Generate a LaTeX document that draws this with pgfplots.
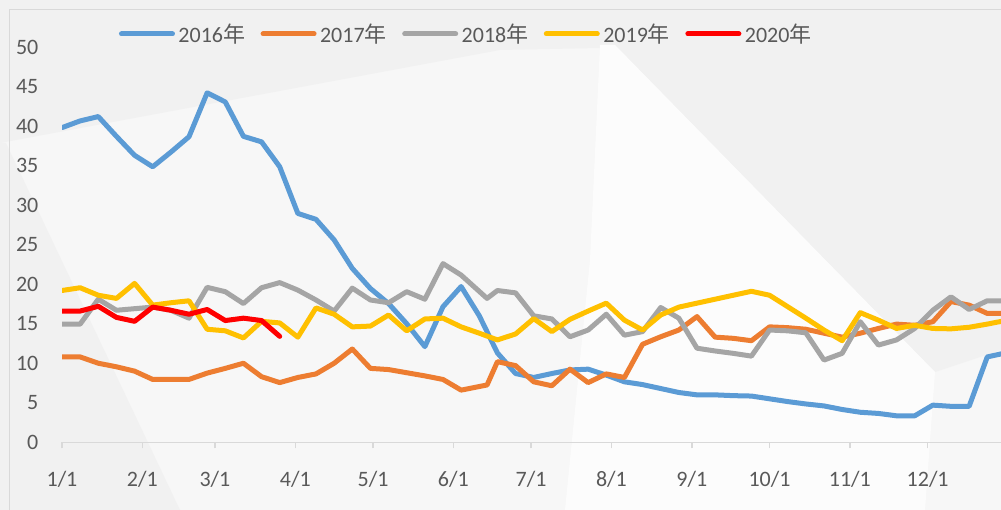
\documentclass[border=0pt]{standalone}
\usepackage{pgfplots}
\pgfplotsset{compat=1.18}
\usepackage{pgfplotstable}
\usepackage{fontspec}
\setmainfont{Carlito}
\newfontfamily\cjk{Noto Sans CJK SC}
\definecolor{c16}{HTML}{5B9BD5}
\definecolor{c17}{HTML}{ED7D31}
\definecolor{c18}{HTML}{A5A5A5}
\definecolor{c19}{HTML}{FFC000}
\definecolor{c20}{HTML}{FF0000}
\definecolor{txt}{HTML}{595959}
\definecolor{axl}{HTML}{D9D9D9}
\definecolor{bgA}{HTML}{F7F7F7}
\definecolor{bgB}{HTML}{F1F1F1}
\definecolor{bgC}{HTML}{FCFCFC}

\pgfplotstableread{
d v
0 39.8
7 40.65
14 41.2
21 38.7
28 36.3
35 34.85
42 36.7
49 38.65
56 44.2
63 43.05
70 38.7
77 38.0
84 34.85
91 28.95
98 28.2
105 25.6
112 22.0
119 19.45
126 17.55
133 15.0
140 12.1
147 17.15
154 19.7
161 16.0
168 11.3
175 8.7
182 8.2
189 8.7
196 9.15
203 9.25
210 8.5
217 7.65
224 7.3
231 6.8
238 6.3
245 6.0
252 6.0
259 5.9
266 5.85
273 5.5
280 5.15
287 4.85
294 4.6
301 4.15
308 3.8
315 3.65
322 3.35
329 3.35
336 4.7
343 4.55
350 4.55
357 10.8
364 11.3
}\tA

\pgfplotstableread{
d v
0 10.8
7 10.8
14 10.0
21 9.55
28 9.0
35 7.95
42 7.95
49 7.95
56 8.75
63 9.35
70 10.0
77 8.3
84 7.55
91 8.2
98 8.65
105 10.0
112 11.8
119 9.35
126 9.2
133 8.8
140 8.4
147 7.95
154 6.6
164 7.25
168 10.2
175 9.7
182 7.65
189 7.15
196 9.25
203 7.55
210 8.65
217 8.2
224 12.4
231 13.35
238 14.2
245 15.9
252 13.3
259 13.15
266 12.85
273 14.6
280 14.5
287 14.3
294 13.8
301 13.3
308 13.8
315 14.4
322 14.95
329 14.8
336 15.25
343 17.8
350 17.35
357 16.3
364 16.3
}\tB

\pgfplotstableread{
d v
0 14.95
7 14.95
14 18.1
21 16.7
28 16.9
35 17.1
42 16.7
49 15.7
56 19.6
63 19.05
70 17.55
77 19.55
84 20.2
91 19.25
98 18.0
105 16.6
112 19.5
119 18.0
126 17.65
133 19.05
140 18.1
147 22.6
154 21.15
164 18.2
168 19.2
175 18.9
182 16.0
189 15.6
196 13.35
203 14.2
210 16.2
217 13.55
224 14.0
231 17.05
238 15.7
245 11.9
252 11.55
259 11.25
266 10.9
273 14.2
280 14.1
287 13.85
294 10.4
301 11.25
308 15.25
315 12.3
322 12.95
329 14.4
336 16.7
343 18.4
350 16.8
357 17.9
364 17.9
}\tC

\pgfplotstableread{
d v
0 19.2
7 19.55
14 18.6
21 18.2
28 20.1
35 17.35
42 17.65
49 17.9
56 14.3
63 14.1
70 13.2
77 15.3
84 15.1
91 13.3
98 17.0
105 16.2
112 14.6
119 14.7
126 16.1
133 14.1
140 15.6
147 15.7
154 14.6
161 13.8
168 12.95
175 13.7
182 15.65
189 14.0
196 15.55
203 16.6
210 17.6
217 15.45
224 14.2
231 16.1
238 17.1
245 17.6
252 18.1
259 18.6
266 19.1
273 18.6
280 17.15
287 15.7
294 14.2
301 12.85
308 16.4
315 15.45
322 14.4
329 14.8
336 14.4
343 14.35
350 14.55
357 14.95
364 15.4
}\tD

\pgfplotstableread{
d v
0 16.6
7 16.6
14 17.2
21 15.8
28 15.3
35 17.1
42 16.7
49 16.2
56 16.8
63 15.4
70 15.7
77 15.4
84 13.4
}\tE

\begin{document}
\begin{tikzpicture}
\useasboundingbox (0,0) rectangle (1001bp,510bp);
% background decoration (image y -> 510 - y)
\fill[bgA] (0,0) rectangle (1001bp,510bp);
\fill[bgB] (0,510bp) -- (1001bp,510bp) -- (1001bp,470bp) -- (500bp,460bp) -- (0bp,367bp) -- cycle;
\fill[bgB] (600bp,510bp) -- (1001bp,510bp) -- (1001bp,160bp) -- (935bp,138bp) -- (615bp,465bp) -- cycle;
\fill[bgC] (600bp,465bp) -- (615bp,465bp) -- (935bp,138bp) -- (925bp,0bp) -- (565bp,0bp) -- (590bp,250bp) -- cycle;
\fill[bgB] (0,367bp) -- (6bp,367bp) -- (180bp,0bp) -- (0,0) -- cycle;
\draw[axl, line width=1.5bp] (9.3bp,0) -- (9.3bp,500.7bp) -- (1001bp,500.7bp);
\begin{axis}[
  at={(62bp,67.7bp)}, anchor=south west,
  scale only axis, width=939bp, height=395.3bp,
  xmin=0, xmax=362.3, ymin=0, ymax=50,
  enlargelimits=false,
  axis x line*=bottom, axis y line*=left,
  x axis line style={axl, line width=1.5bp},
  y axis line style={draw=none},
  xtick={0,31,59,90,120,151,181,212,243,273,304,334},
  xticklabels={1/1,2/1,3/1,4/1,5/1,6/1,7/1,8/1,9/1,10/1,11/1,12/1},
  ytick={0,5,10,15,20,25,30,35,40,45,50},
  tick align=outside,
  major tick length=6bp,
  xtick style={axl, line width=1.5bp},
  ytick style={draw=none},
  /pgf/number format/assume math mode=true,
  xticklabel style={font=\fontsize{22bp}{26bp}\selectfont, text=txt, anchor=base, inner sep=0pt, yshift=-38bp},
  yticklabel style={font=\fontsize{22bp}{26bp}\selectfont, text=txt, anchor=east, inner sep=0pt, xshift=-17.5bp},
  every axis plot/.append style={line width=5bp, line join=round, line cap=round, no markers},
  legend columns=5,
  legend style={at={(0.4313,1.033)}, anchor=center, draw=none, fill=none,
    font=\fontsize{22bp}{26bp}\selectfont, text=txt,
    inner sep=0pt,
    /tikz/every even column/.append style={column sep=12bp},
    nodes={inner xsep=3.5bp, inner ysep=0pt}},
  legend image code/.code={\draw[#1, line width=5bp, line cap=round] (2.5bp,0bp) -- (53.5bp,0bp);},
]
\addplot[c16] table[x=d,y=v] {\tA};
\addlegendentry{2016{\cjk 年}}
\addplot[c17] table[x=d,y=v] {\tB};
\addlegendentry{2017{\cjk 年}}
\addplot[c18] table[x=d,y=v] {\tC};
\addlegendentry{2018{\cjk 年}}
\addplot[c19] table[x=d,y=v] {\tD};
\addlegendentry{2019{\cjk 年}}
\addplot[c20] table[x=d,y=v] {\tE};
\addlegendentry{2020{\cjk 年}}
\end{axis}
\end{tikzpicture}
\end{document}
